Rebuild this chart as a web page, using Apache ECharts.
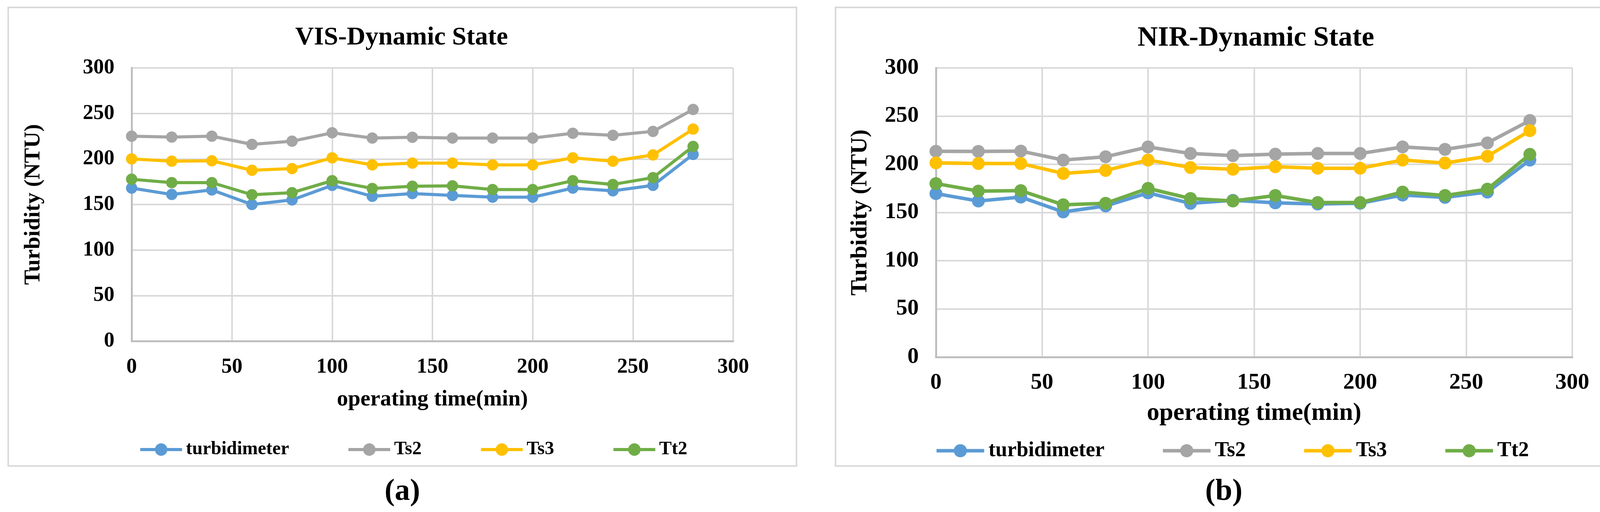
<!DOCTYPE html>
<html>
<head>
<meta charset="utf-8">
<script src="https://cdn.jsdelivr.net/npm/echarts@6/dist/echarts.min.js"></script>
<style>
html,body{margin:0;padding:0;background:#fff;}
#chart{width:4143px;height:1312px;}
</style>
</head>
<body>
<div id="chart"></div>
<script>
// ---- data ----
const timeMin = [0, 20, 40, 60, 80, 100, 120, 140, 160, 180, 200, 220, 240, 260, 280];
const seriesNames = ['turbidimeter', 'Ts2', 'Ts3', 'Tt2'];
const visTurbidimeter = [168, 161, 166, 150, 155, 171, 159, 162, 160, 158, 158, 168, 165, 171, 205];
const visTs2 = [225, 224, 225, 216, 219.5, 228.7, 223, 223.8, 223, 223, 223, 228.2, 226, 230.3, 254.4];
const visTs3 = [200, 197.6, 198, 187.6, 189.4, 201.2, 193.5, 195.4, 195.4, 193.5, 193.5, 201.2, 197.6, 204.4, 232.8];
const visTt2 = [177.7, 174, 174, 160.7, 163, 176.1, 167.6, 170, 170.5, 166.4, 166.4, 176.1, 172, 179.5, 213.8];
const nirTurbidimeter = [169.6, 161.9, 166, 150.6, 156.8, 170.4, 159.5, 162.6, 160, 158.8, 159.6, 168.1, 165.7, 171.2, 204.4];
const nirTs2 = [213.5, 213.4, 213.7, 204.4, 207.8, 218, 211.2, 209, 210.5, 211.2, 211.2, 218, 215.5, 222.2, 245.4];
const nirTs3 = [201.5, 200.8, 200.8, 190.5, 193.6, 204.4, 196.7, 194.8, 197.5, 195.9, 195.9, 204.4, 201.3, 208.3, 234.9];
const nirTt2 = [180, 172.2, 172.7, 158, 159.5, 175, 164.5, 161.9, 167.6, 160.3, 160.3, 171.2, 167.6, 174.2, 210.3];
const axisTicks = [0, 50, 100, 150, 200, 250, 300];
const titles = ['VIS-Dynamic State', 'NIR-Dynamic State'];
const panelLabels = ['a', 'b'];

// ---- style ----
const colors = ['#5B9BD5', '#A5A5A5', '#FFC000', '#70AD47'];
const FONT = 'Liberation Serif, Times New Roman, serif';
const gridColor = '#D9D9D9';
const axisColor = '#BFBFBF';

const visData = [visTurbidimeter, visTs2, visTs3, visTt2];
const nirData = [nirTurbidimeter, nirTs2, nirTs3, nirTt2];

function pairs(ys) { return timeMin.map((t, i) => [t, ys[i]]); }

const panels = [
  { grid: { left: 337, top: 174, width: 1540, height: 700 }, tick: 54, xName: 57, yName: 58, xNameGap: 122, yNameGap: 222, xLabelMargin: 40, yLabelMargin: 44, sym: 29, lw: 8 },
  { grid: { left: 2396, top: 174, width: 1629, height: 741 }, tick: 58, xName: 64, yName: 60, xNameGap: 112, yNameGap: 164, xLabelMargin: 37, yLabelMargin: 44, sym: 33, lw: 9 }
];

function makeX(p, gi) {
  return {
    type: 'value', gridIndex: gi, min: axisTicks[0], max: axisTicks[axisTicks.length - 1], interval: 50,
    name: 'operating time(min)', nameLocation: 'middle', nameGap: p.xNameGap,
    nameTextStyle: { fontFamily: FONT, fontWeight: 'bold', fontSize: p.xName, color: '#000' },
    axisLine: { show: true, lineStyle: { color: axisColor, width: 5 } },
    axisTick: { show: false },
    axisLabel: { fontFamily: FONT, fontWeight: 'bold', fontSize: p.tick, color: '#000', margin: p.xLabelMargin },
    splitLine: { show: true, lineStyle: { color: gridColor, width: 4 } }
  };
}
function makeY(p, gi) {
  return {
    type: 'value', gridIndex: gi, min: axisTicks[0], max: axisTicks[axisTicks.length - 1], interval: 50,
    name: 'Turbidity (NTU)', nameLocation: 'middle', nameRotate: 90, nameGap: p.yNameGap,
    nameTextStyle: { fontFamily: FONT, fontWeight: 'bold', fontSize: p.yName, color: '#000' },
    axisLine: { show: true, lineStyle: { color: axisColor, width: 5 } },
    axisTick: { show: false },
    axisLabel: { fontFamily: FONT, fontWeight: 'bold', fontSize: p.tick, color: '#000', margin: p.yLabelMargin },
    splitLine: { show: true, lineStyle: { color: gridColor, width: 4 } }
  };
}

const series = [];
[visData, nirData].forEach((set, gi) => {
  set.forEach((ys, si) => {
    series.push({
      name: seriesNames[si], type: 'line', xAxisIndex: gi, yAxisIndex: gi,
      data: pairs(ys), symbol: 'circle', symbolSize: panels[gi].sym,
      lineStyle: { color: colors[si], width: panels[gi].lw },
      itemStyle: { color: colors[si] },
      emphasis: { disabled: true }, animation: false, z: 3 + si
    });
  });
});

const option = {
  backgroundColor: '#fff',
  animation: false,
  color: colors,
  title: [
    { text: titles[0], left: 1028, top: 64, textAlign: 'center', padding: 0,
      textStyle: { fontFamily: FONT, fontWeight: 'bold', fontSize: 66, color: '#000' } },
    { text: titles[1], left: 3215, top: 62, textAlign: 'center', padding: 0,
      textStyle: { fontFamily: FONT, fontWeight: 'bold', fontSize: 72, color: '#000' } },
    { text: '{p|(}{b|' + panelLabels[0] + '}{p|)}', left: 1030, top: 1222, textAlign: 'center', padding: 0,
      textStyle: { rich: { p: { fontFamily: FONT, fontSize: 78, color: '#000' }, b: { fontFamily: FONT, fontSize: 78, fontWeight: 'bold', color: '#000' } } } },
    { text: '{p|(}{b|' + panelLabels[1] + '}{p|)}', left: 3133, top: 1222, textAlign: 'center', padding: 0,
      textStyle: { rich: { p: { fontFamily: FONT, fontSize: 78, color: '#000' }, b: { fontFamily: FONT, fontSize: 78, fontWeight: 'bold', color: '#000' } } } }
  ],
  legend: [
    { data: seriesNames, left: 355, top: 1128, itemWidth: 107, itemHeight: 40, itemGap: 148, padding: 0,
      lineStyle: { width: 8 },
      textStyle: { fontFamily: FONT, fontWeight: 'bold', fontSize: 48, color: '#000', padding: [0, 0, 0, 5] } },
    { data: seriesNames, left: 2393, top: 1128, itemWidth: 122, itemHeight: 42, itemGap: 145, padding: 0,
      lineStyle: { width: 9 },
      textStyle: { fontFamily: FONT, fontWeight: 'bold', fontSize: 54, color: '#000', padding: [0, 0, 0, 6] } }
  ],
  grid: panels.map(p => Object.assign({ containLabel: false }, p.grid)),
  xAxis: panels.map((p, i) => makeX(p, i)),
  yAxis: panels.map((p, i) => makeY(p, i)),
  graphic: [
    { type: 'rect', shape: { x: 21, y: 19, width: 2018, height: 1175 }, style: { fill: 'none', stroke: gridColor, lineWidth: 4 }, z: -1, silent: true },
    { type: 'rect', shape: { x: 2139, y: 19, width: 1996, height: 1175 }, style: { fill: 'none', stroke: gridColor, lineWidth: 4 }, z: -1, silent: true }
  ],
  series: series
};

const chart = echarts.init(document.getElementById('chart'), null, { renderer: 'canvas' });
chart.setOption(option);
</script>
</body>
</html>
